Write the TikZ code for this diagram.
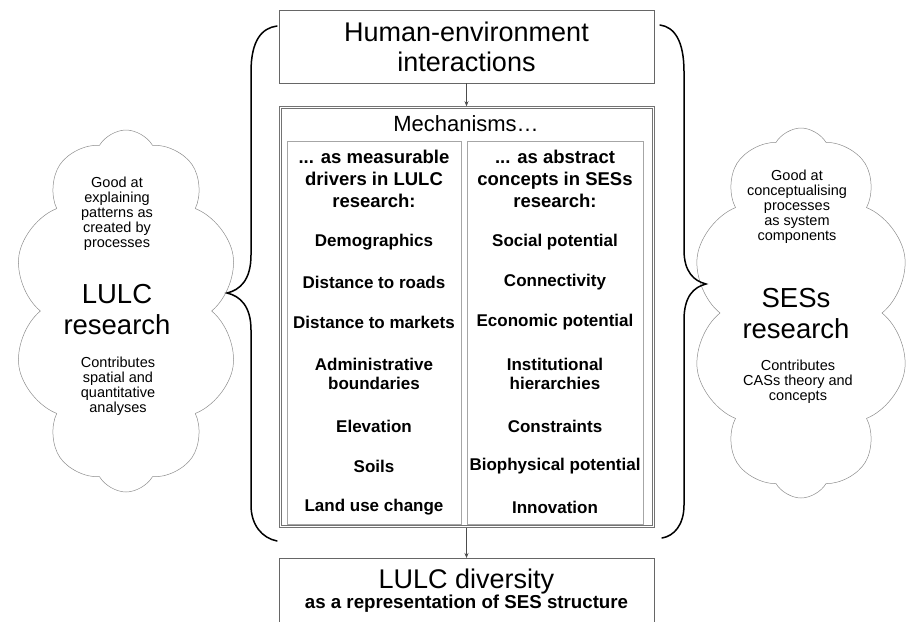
\documentclass[tikz,border=0pt]{standalone}
\usepackage{fontspec}
\setmainfont{Liberation Sans}
\usetikzlibrary{positioning, shapes.symbols, arrows.meta}
\tikzset{
  framebox/.style={rectangle, draw=black!60, line width=0.7pt, minimum width=375pt, align=center},
  arrow/.style={-{Stealth[length=5pt, width=4pt]}, draw=black!70, line width=0.6pt},
}

\begin{document}
\begin{tikzpicture}[x=1pt, y=-1pt]
  \tikzset{
    mainbox/.style={framebox, minimum height=73pt, font=\fontsize{27}{30}\selectfont},
    mechbox/.style={rectangle, draw=black!55, line width=0.6pt, minimum width=375pt, minimum height=421pt},
    resultbox/.style={framebox, anchor=north, inner ysep=11pt, text depth=45pt, font=\fontsize{27}{30}\selectfont},
    colframe/.style={rectangle, draw=black!35, line width=0.5pt, minimum width=174pt, minimum height=383pt},
    colhead/.style={align=center, font=\bfseries\fontsize{18.5}{22}\selectfont},
    driver/.style={align=center, font=\bfseries\fontsize{17}{19}\selectfont},
    puff/.style={cloud, cloud puffs=10, cloud puff arc=120, cloud ignores aspect, draw=black!45, line width=0.5pt, minimum width=225pt, minimum height=362pt},
    puffsmall/.style={align=center, font=\fontsize{14.5}{15}\selectfont},
    puffbig/.style={align=center, font=\fontsize{27.5}{31}\selectfont},
    bigbrace/.style={line width=1.5pt, line cap=round},
  }
  \useasboundingbox (0,0) rectangle (912,621);
  \clip (0,0) rectangle (912,621);

  % Clouds
  \node[puff] (lulccloud) at (126,311) {};
  \node[puff, minimum width=218pt, minimum height=370pt] (sescloud) at (801,313) {};

  \node[puffsmall] (lulcgood) at (117,214) {Good at\\explaining\\patterns as\\created by\\processes};
  \node[puffbig] (lulcname) at (117,310) {LULC\\research};
  \node[puffsmall] (lulccontrib) at (118,386) {Contributes\\spatial and\\quantitative\\analyses};

  \node[puffsmall] (sesgood) at (797,207) {Good at\\conceptualising\\processes\\as system\\components};
  \node[puffbig] (sesname) at (796,314) {SESs\\research};
  \node[puffsmall] (sescontrib) at (798,382) {Contributes\\CASs theory and\\concepts};

  % Boxes
  \node[mainbox] (interact) at (466.5,46.5) {Human-environment\\interactions};
  \node[mechbox] (mech) at (466.5,317) {};
  \node[mechbox, minimum width=371pt, minimum height=417pt] (mechinner) at (mech) {};
  \node[font=\fontsize{22}{24}\selectfont] (mechtitle) at (466,124) {Mechanisms…};
  \node[colframe] (lulccol) at (374,332.5) {};
  \node[colframe, minimum width=176pt] (sescol) at (555,332.5) {};
  \node[resultbox] (result) at (466.5,558) {LULC diversity\\[-10pt]{\bfseries\fontsize{18.7}{20}\selectfont as a representation of SES structure}};

  % Left column
  \node[colhead] (lulchead) at (374,179) {... as measurable\\drivers in LULC\\research:};
  \node[driver] (d1) at (374,242) {Demographics};
  \node[driver] (d2) at (374,282) {Distance to roads};
  \node[driver] (d3) at (374,322) {Distance to markets};
  \node[driver] (d4) at (374,373.5) {Administrative\\boundaries};
  \node[driver] (d5) at (374,426) {Elevation};
  \node[driver] (d6) at (374,466) {Soils};
  \node[driver] (d7) at (374,507) {Land use change};

  % Right column
  \node[colhead] (seshead) at (555,179) {... as abstract\\concepts in SESs\\research:};
  \node[driver] (c1) at (555,242) {Social potential};
  \node[driver] (c2) at (555,282) {Connectivity};
  \node[driver] (c3) at (555,322) {Economic potential};
  \node[driver] (c4) at (555,373.5) {Institutional\\hierarchies};
  \node[driver] (c5) at (555,426) {Constraints};
  \node[driver] (c6) at (555,466) {Biophysical potential};
  \node[driver] (c7) at (555,507) {Innovation};

  % Arrows
  \draw[arrow] (interact) -- (mech);
  \draw[arrow] (mech) -- (result);

  % Braces
  \draw[bigbrace] (277,26) .. controls (262,28) and (251,40) .. (251,72) -- (251,255)
    .. controls (251,280) and (240,290) .. (227,293)
    .. controls (240,296) and (251,306) .. (251,330) -- (251,505)
    .. controls (251,525) and (262,538) .. (277,541);
  \draw[bigbrace] (660,25) .. controls (674,27) and (684,40) .. (684,72) -- (684,250)
    .. controls (684,272) and (694,281) .. (706,284)
    .. controls (694,287) and (684,296) .. (684,320) -- (684,505)
    .. controls (684,525) and (674,536) .. (662,538);

\end{tikzpicture}
\end{document}
